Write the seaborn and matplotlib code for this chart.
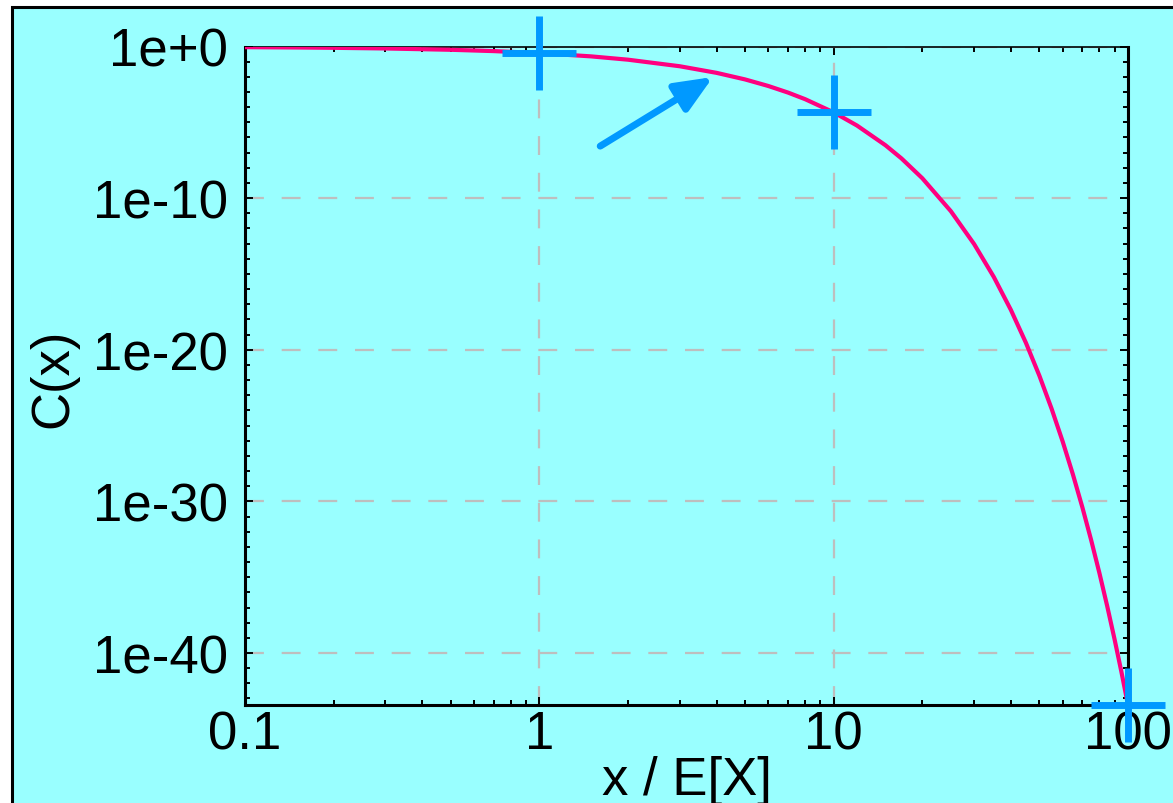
import numpy as np
import pandas as pd
import matplotlib
matplotlib.use("Agg")
import matplotlib.pyplot as plt
from matplotlib.patches import Rectangle
from matplotlib.ticker import FixedLocator, FixedFormatter
import seaborn as sns

# ---- data ----
x_vals = [0.1, 0.15, 0.2, 0.3, 0.5, 0.7, 1, 1.5, 2, 3, 4, 5, 6, 7, 8, 10, 12, 15, 17,
          20, 25, 30, 35, 40, 45, 50, 55, 60, 65, 70, 75, 80, 85, 90, 95, 100]
c_vals = [0.905, 0.861, 0.819, 0.741, 0.607, 0.497, 0.368, 0.223, 0.135, 0.0498,
          0.0183, 6.74e-3, 2.48e-3, 9.12e-4, 3.35e-4, 4.54e-5, 6.14e-6, 3.06e-7,
          4.14e-8, 2.06e-9, 1.39e-11, 9.36e-14, 6.31e-16, 4.25e-18, 2.86e-20,
          1.93e-22, 1.30e-24, 8.76e-27, 5.91e-29, 3.98e-31, 2.68e-33, 1.80e-35,
          1.22e-37, 8.19e-40, 5.52e-42, 3.72e-44]
marker_x = [1, 10, 100]
marker_c = [0.368, 4.54e-5, 3.72e-44]
arrow_tail = (1.61, 10 ** -6.57)
arrow_tip = (3.89, 10 ** -2.01)

x_ticks = [0.1, 1, 10, 100]
x_ticklabels = ["0.1", "1", "10", "100"]
y_ticks = [1e0, 1e-10, 1e-20, 1e-30, 1e-40]
y_ticklabels = ["1e+0", "1e-10", "1e-20", "1e-30", "1e-40"]
x_label = "x / E[X]"
y_label = "C(x)"

# ---- style ----
CYAN = "#99FFFF"
PINK = "#FF0080"
BLUE = "#0099FF"
GRID = "#BEBEBE"

sns.set_theme(style="ticks")
plt.rcParams["font.family"] = ["Liberation Sans", "DejaVu Sans"]
plt.rcParams["text.color"] = "black"
plt.rcParams["axes.labelcolor"] = "black"
plt.rcParams["xtick.labelcolor"] = "black"
plt.rcParams["ytick.labelcolor"] = "black"

fig = plt.figure(figsize=(11.73, 8.04), dpi=100, facecolor="white")
fig.patches.append(Rectangle((12 / 1173, -0.2), 1.2, 1.2 - 8 / 804,
                             transform=fig.transFigure, facecolor=CYAN,
                             edgecolor="black", linewidth=2.2, zorder=-10))
ax = fig.add_axes([245 / 1173, 1 - 706 / 804, (1128 - 245) / 1173, (706 - 47.5) / 804])
ax.set_facecolor(CYAN)

df = pd.DataFrame({"x": x_vals, "C": c_vals})
ax.set_xscale("log")
ax.set_yscale("log")
sns.lineplot(data=df, x="x", y="C", ax=ax, color=PINK, linewidth=3.0, zorder=3)

mdf = pd.DataFrame({"x": marker_x, "C": marker_c})
sns.scatterplot(data=mdf, x="x", y="C", ax=ax, marker="+", s=2800, linewidth=5,
                color=BLUE, zorder=5, clip_on=False)

ax.annotate("", xy=arrow_tip, xytext=arrow_tail,
            arrowprops=dict(arrowstyle="-|>,head_length=0.75,head_width=0.32",
                            lw=5, color=BLUE, shrinkA=0, shrinkB=0,
                            mutation_scale=30), zorder=4)

ax.set_xlim(0.1, 100)
ax.set_ylim(3.72e-44, 1)

ax.xaxis.set_major_locator(FixedLocator(x_ticks))
ax.xaxis.set_major_formatter(FixedFormatter(x_ticklabels))
minor_x = [m * 10.0 ** e for e in (-1, 0, 1) for m in range(2, 10)]
ax.xaxis.set_minor_locator(FixedLocator(minor_x))
ax.yaxis.set_major_locator(FixedLocator(y_ticks))
ax.yaxis.set_major_formatter(FixedFormatter(y_ticklabels))
ax.yaxis.set_minor_locator(FixedLocator([10.0 ** -k for k in range(0, 44)]))
ax.xaxis.set_minor_formatter(FixedFormatter([]))
ax.yaxis.set_minor_formatter(FixedFormatter([]))

ax.tick_params(which="both", direction="in", top=True, right=True,
               color="black", width=1.4, labelcolor="black")
ax.tick_params(which="major", length=6)
ax.tick_params(which="minor", length=3.6)
ax.tick_params(axis="y", which="major", labelsize=38, pad=12)
ax.tick_params(axis="x", which="major", labelsize=38, pad=3)

ax.grid(True, which="major", color=GRID, linestyle=(0, (8.5, 8)), linewidth=1.6)
ax.set_axisbelow(True)

for side in ["left", "bottom", "right"]:
    ax.spines[side].set_linewidth(2.2)
    ax.spines[side].set_color("black")
ax.spines["top"].set_linewidth(1.2)
ax.spines["top"].set_color("black")

ax.set_xlabel(x_label, fontsize=38, color="black")
ax.set_ylabel(y_label, fontsize=38, color="black")
ax.xaxis.set_label_coords(0.5, -0.076)
ax.yaxis.set_label_coords(-0.189, 0.498)

fig.savefig("out.png", dpi=100, facecolor=fig.get_facecolor())
